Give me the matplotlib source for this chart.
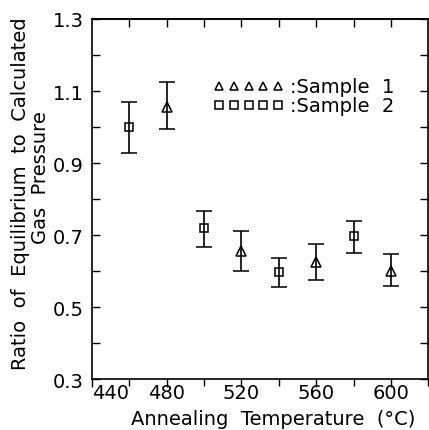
import matplotlib

matplotlib.use("Agg")
import matplotlib.pyplot as plt
from matplotlib.lines import Line2D
from matplotlib.ticker import MultipleLocator

# sample 1 (triangles)
t1 = [480, 520, 560, 600]
r1 = [1.056, 0.656, 0.624, 0.601]
r1_lo = [0.994, 0.601, 0.575, 0.558]
r1_hi = [1.126, 0.712, 0.675, 0.647]

# sample 2 (squares)
t2 = [460, 500, 540, 580]
r2 = [0.999, 0.719, 0.596, 0.696]
r2_lo = [0.928, 0.666, 0.555, 0.649]
r2_hi = [1.069, 0.768, 0.635, 0.740]

xticks = [440, 480, 520, 560, 600]
yticks = [0.3, 0.5, 0.7, 0.9, 1.1, 1.3]
labels = [":Sample  1", ":Sample  2"]

plt.rcParams["font.family"] = "DejaVu Sans"
fs = 14

fig = plt.figure(figsize=(4.29, 4.31), dpi=100)
ax = fig.add_axes([0.2138, 0.1183, 0.7846, 0.8353])


def _err(v, lo, hi):
    return [[a - b for a, b in zip(v, lo)], [b - a for a, b in zip(v, hi)]]


common = dict(color="k", ecolor="k", elinewidth=1.2, capsize=5.5, capthick=1.2,
              mfc="none", mec="k", mew=1.1, linestyle="none", clip_on=False)
ax.errorbar(t1, r1, yerr=_err(r1, r1_lo, r1_hi), fmt="^", ms=6.5, **common)
ax.errorbar(t2, r2, yerr=_err(r2, r2_lo, r2_hi), fmt="s", ms=5.5, **common)

ax.set_xlim(440, 620)
ax.set_ylim(0.3, 1.3)
ax.set_xticks(xticks)
ax.set_yticks(yticks)
ax.xaxis.set_minor_locator(MultipleLocator(20))
ax.yaxis.set_minor_locator(MultipleLocator(0.1))
ax.set_xticklabels([str(v) for v in xticks], fontsize=fs)
ax.set_yticklabels([f"{v:.1f}" for v in yticks], fontsize=fs)
ax.get_xticklabels()[0].set_ha("left")

ax.tick_params(axis="x", which="both", direction="out", bottom=True, top=False, pad=-3)
ax.tick_params(axis="x", which="major", length=6, width=1)
ax.tick_params(axis="x", which="minor", length=5, width=1)
ax.tick_params(axis="y", which="both", direction="in", left=True, right=True, length=6, width=1, pad=6)

top = ax.secondary_xaxis("top")
top.set_xticks(list(range(460, 620, 20)))
top.tick_params(direction="in", length=6, width=1, labeltop=False)

for s in ax.spines.values():
    s.set_linewidth(1.2)
top.spines["top"].set_linewidth(1.2)

ax.set_xlabel("Annealing  Temperature  (°C)", fontsize=fs)
ax.xaxis.set_label_coords(0.54, -0.082)
fig.text(0.047, 0.55, "Ratio  of  Equilibrium  to  Calculated", rotation=90,
         ha="center", va="center", fontsize=fs)
fig.text(0.095, 0.587, "Gas  Pressure", rotation=90, ha="center", va="center", fontsize=fs)

handles = [
    Line2D([], [], marker="^", ms=6, mfc="none", mec="k", mew=1.1, linestyle="none"),
    Line2D([], [], marker="s", ms=5.5, mfc="none", mec="k", mew=1.1, linestyle="none"),
]
ax.legend(handles, labels, loc="upper left", bbox_to_anchor=(0.362, 0.838), numpoints=5,
          handlelength=3.6, handletextpad=0.35, labelspacing=0.0, frameon=False, fontsize=fs,
          borderaxespad=0, borderpad=0)

fig.savefig("out.png", dpi=100)
